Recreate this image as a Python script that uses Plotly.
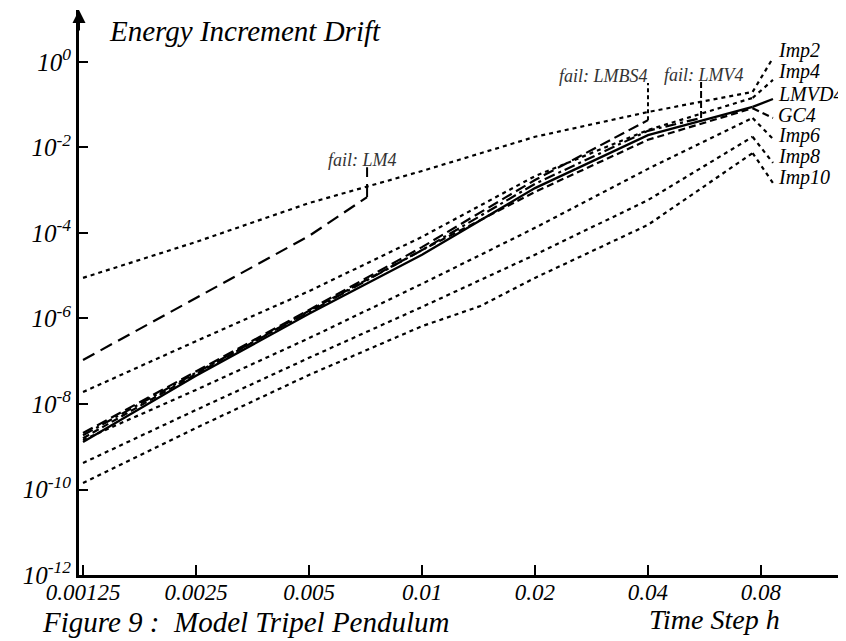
import math
import plotly.graph_objects as go

# ---- data ----
h_std = [0.00125, 0.0025, 0.005, 0.01, 0.02, 0.04, 0.076]

imp2_exp = [-5.05, -4.21, -3.30, -2.55, -1.75, -1.17, -0.70]
imp4_exp = [-7.72, -6.53, -5.36, -4.09, -2.67, -1.59, -0.84]
lmvd4_exp = [-8.89, -7.34, -5.89, -4.51, -2.95, -1.71, -1.05]
gc4_exp = [-8.80, -7.30, -5.82, -4.40, -3.04, -1.82, -1.08]
imp6_exp = [-8.84, -7.67, -6.46, -5.19, -3.88, -2.50, -1.31]
imp8_exp = [-9.38, -8.14, -6.92, -5.73, -4.51, -3.23, -1.75]

h_imp10 = [0.00125, 0.0025, 0.005, 0.01, 0.0143, 0.02, 0.04, 0.076]
imp10_exp = [-9.85, -8.56, -7.32, -6.18, -5.71, -5.05, -3.81, -2.13]

h_lm4 = [0.00125, 0.0025, 0.005, 0.00714]
lm4_exp = [-6.97, -5.52, -4.07, -3.16]

h_lmbs4 = [0.00125, 0.0025, 0.005, 0.01, 0.02, 0.04]
lmbs4_exp = [-8.68, -7.25, -5.80, -4.33, -2.76, -1.36]

h_lmv4 = [0.00125, 0.0025, 0.005, 0.01, 0.02, 0.04, 0.0554]
lmv4_exp = [-8.73, -7.27, -5.85, -4.40, -2.85, -1.61, -1.31]

# fail markers
fail_names = ["fail: LM4", "fail: LMBS4", "fail: LMV4"]
fail_h = [0.00714, 0.04, 0.0554]
fail_top_exp = [-2.46, -0.49, -0.47]

# end labels on the right
end_labels = ["Imp2", "Imp4", "LMVD4", "GC4", "Imp6", "Imp8", "Imp10"]
label_exp = [0.28, -0.234, -0.75, -1.24, -1.73, -2.22, -2.71]
connector_exp = [0.094, -0.42, -0.865, -1.31, -1.80, -2.36, -2.83]
label_h = 0.0878
connector_h = 0.0861

x_tickvals = [0.00125, 0.0025, 0.005, 0.01, 0.02, 0.04, 0.08]
x_ticktext = ["0.00125", "0.0025", "0.005", "0.01", "0.02", "0.04", "0.08"]
y_exps = [0, -2, -4, -6, -8, -10, -12]

# ---- styles ----
DOT = "4px,4px"
styles = {
    "Imp2": DOT, "Imp4": DOT, "Imp6": DOT, "Imp8": DOT, "Imp10": DOT,
    "LMVD4": "solid", "GC4": "7px,4px", "LM4": "13px,7px",
    "LMBS4": "11px,5px", "LMV4": "11px,4px,3px,4px",
}

def p(e):
    return [10 ** v for v in e]

fig = go.Figure()

def add(x, e, name, width=2.2):
    fig.add_trace(go.Scatter(x=x, y=p(e), mode="lines", name=name,
                             line=dict(color="black", width=width, dash=styles[name]),
                             showlegend=False, hoverinfo="skip"))

add(h_std, imp2_exp, "Imp2")
add(h_lm4, lm4_exp, "LM4")
add(h_std, imp4_exp, "Imp4")
add(h_lmbs4, lmbs4_exp, "LMBS4")
add(h_lmv4, lmv4_exp, "LMV4")
add(h_std, gc4_exp, "GC4")
add(h_std, lmvd4_exp, "LMVD4", width=2.3)
add(h_std, imp6_exp, "Imp6")
add(h_std, imp8_exp, "Imp8")
add(h_imp10, imp10_exp, "Imp10")

# connectors from curve end to labels
ends = {"Imp2": imp2_exp[-1], "Imp4": imp4_exp[-1], "LMVD4": lmvd4_exp[-1],
        "GC4": gc4_exp[-1], "Imp6": imp6_exp[-1], "Imp8": imp8_exp[-1],
        "Imp10": imp10_exp[-1]}
for name, ce, le in zip(end_labels, connector_exp, label_exp):
    fig.add_trace(go.Scatter(x=[h_std[-1], connector_h], y=p([ends[name], ce]),
                             mode="lines", showlegend=False, hoverinfo="skip",
                             line=dict(color="black", width=2.2, dash=styles[name])))
    fig.add_annotation(x=math.log10(label_h), y=le, xref="x", yref="y", text=name,
                       showarrow=False, xanchor="left", yanchor="middle",
                       font=dict(size=20))

# fail markers
fail_end_exp = [lm4_exp[-1], lmbs4_exp[-1], lmv4_exp[-1]]
fail_dash = [styles["LM4"], "4px,3px", "7px,3px"]
fail_anchor = ["center", "right", "center"]
fail_xshift = [-5, 2, 3]
for nm, fh, fe, te, d, anc, xs in zip(fail_names, fail_h, fail_end_exp, fail_top_exp,
                                      fail_dash, fail_anchor, fail_xshift):
    fig.add_trace(go.Scatter(x=[fh, fh], y=p([fe, te]), mode="lines",
                             showlegend=False, hoverinfo="skip",
                             line=dict(color="black", width=2, dash=d)))
    fig.add_annotation(x=math.log10(fh), y=te, xref="x", yref="y", text=nm,
                       showarrow=False, xanchor=anc, yanchor="bottom",
                       xshift=xs, yshift=-5,
                       font=dict(size=18, color="#333"))

# titles / captions
fig.add_annotation(x=0.037, y=0.963, xref="paper", yref="paper",
                   text="Energy Increment Drift", showarrow=False,
                   xanchor="left", yanchor="middle", font=dict(size=29))
fig.add_annotation(x=-0.051, y=-0.083, xref="paper", yref="paper",
                   text="Figure 9 :  Model Tripel Pendulum", showarrow=False,
                   xanchor="left", yanchor="middle", font=dict(size=29))
fig.add_annotation(x=0.828, y=-0.078, xref="paper", yref="paper",
                   text="Time Step h", showarrow=False,
                   xanchor="center", yanchor="middle", font=dict(size=28))

# arrow on y axis
fig.add_annotation(x=0, y=1, xref="paper", yref="paper", text="",
                   showarrow=True, ax=0, ay=22, arrowhead=2, arrowsize=1.3,
                   arrowwidth=2, arrowcolor="black", standoff=0)

# page body has an 8px margin: compensate so the plot area sits at x 79..846, y 10..575
fig.update_layout(
    width=838, height=633,
    margin=dict(l=71, r=0, t=2, b=66),
    paper_bgcolor="white", plot_bgcolor="white",
    font=dict(family="Liberation Serif", style="italic", color="black", size=20),
    showlegend=False,
)
fig.update_xaxes(type="log", range=[-2.9138, -0.8704],
                 tickvals=x_tickvals, ticktext=x_ticktext,
                 ticks="inside", ticklen=10, tickwidth=2, tickcolor="black",
                 showline=True, linecolor="black", linewidth=3,
                 showgrid=False, zeroline=False, ticklabelstandoff=-6,
                 tickfont=dict(size=23))
fig.update_yaxes(type="log", range=[-12.0, 1.216],
                 tickvals=[10 ** e for e in y_exps],
                 ticktext=["10<sup>%d</sup>" % e for e in y_exps],
                 ticks="inside", ticklen=9, tickwidth=2, tickcolor="black",
                 showline=True, linecolor="black", linewidth=3,
                 showgrid=False, zeroline=False,
                 tickfont=dict(size=25))

fig.write_html("out.html")
